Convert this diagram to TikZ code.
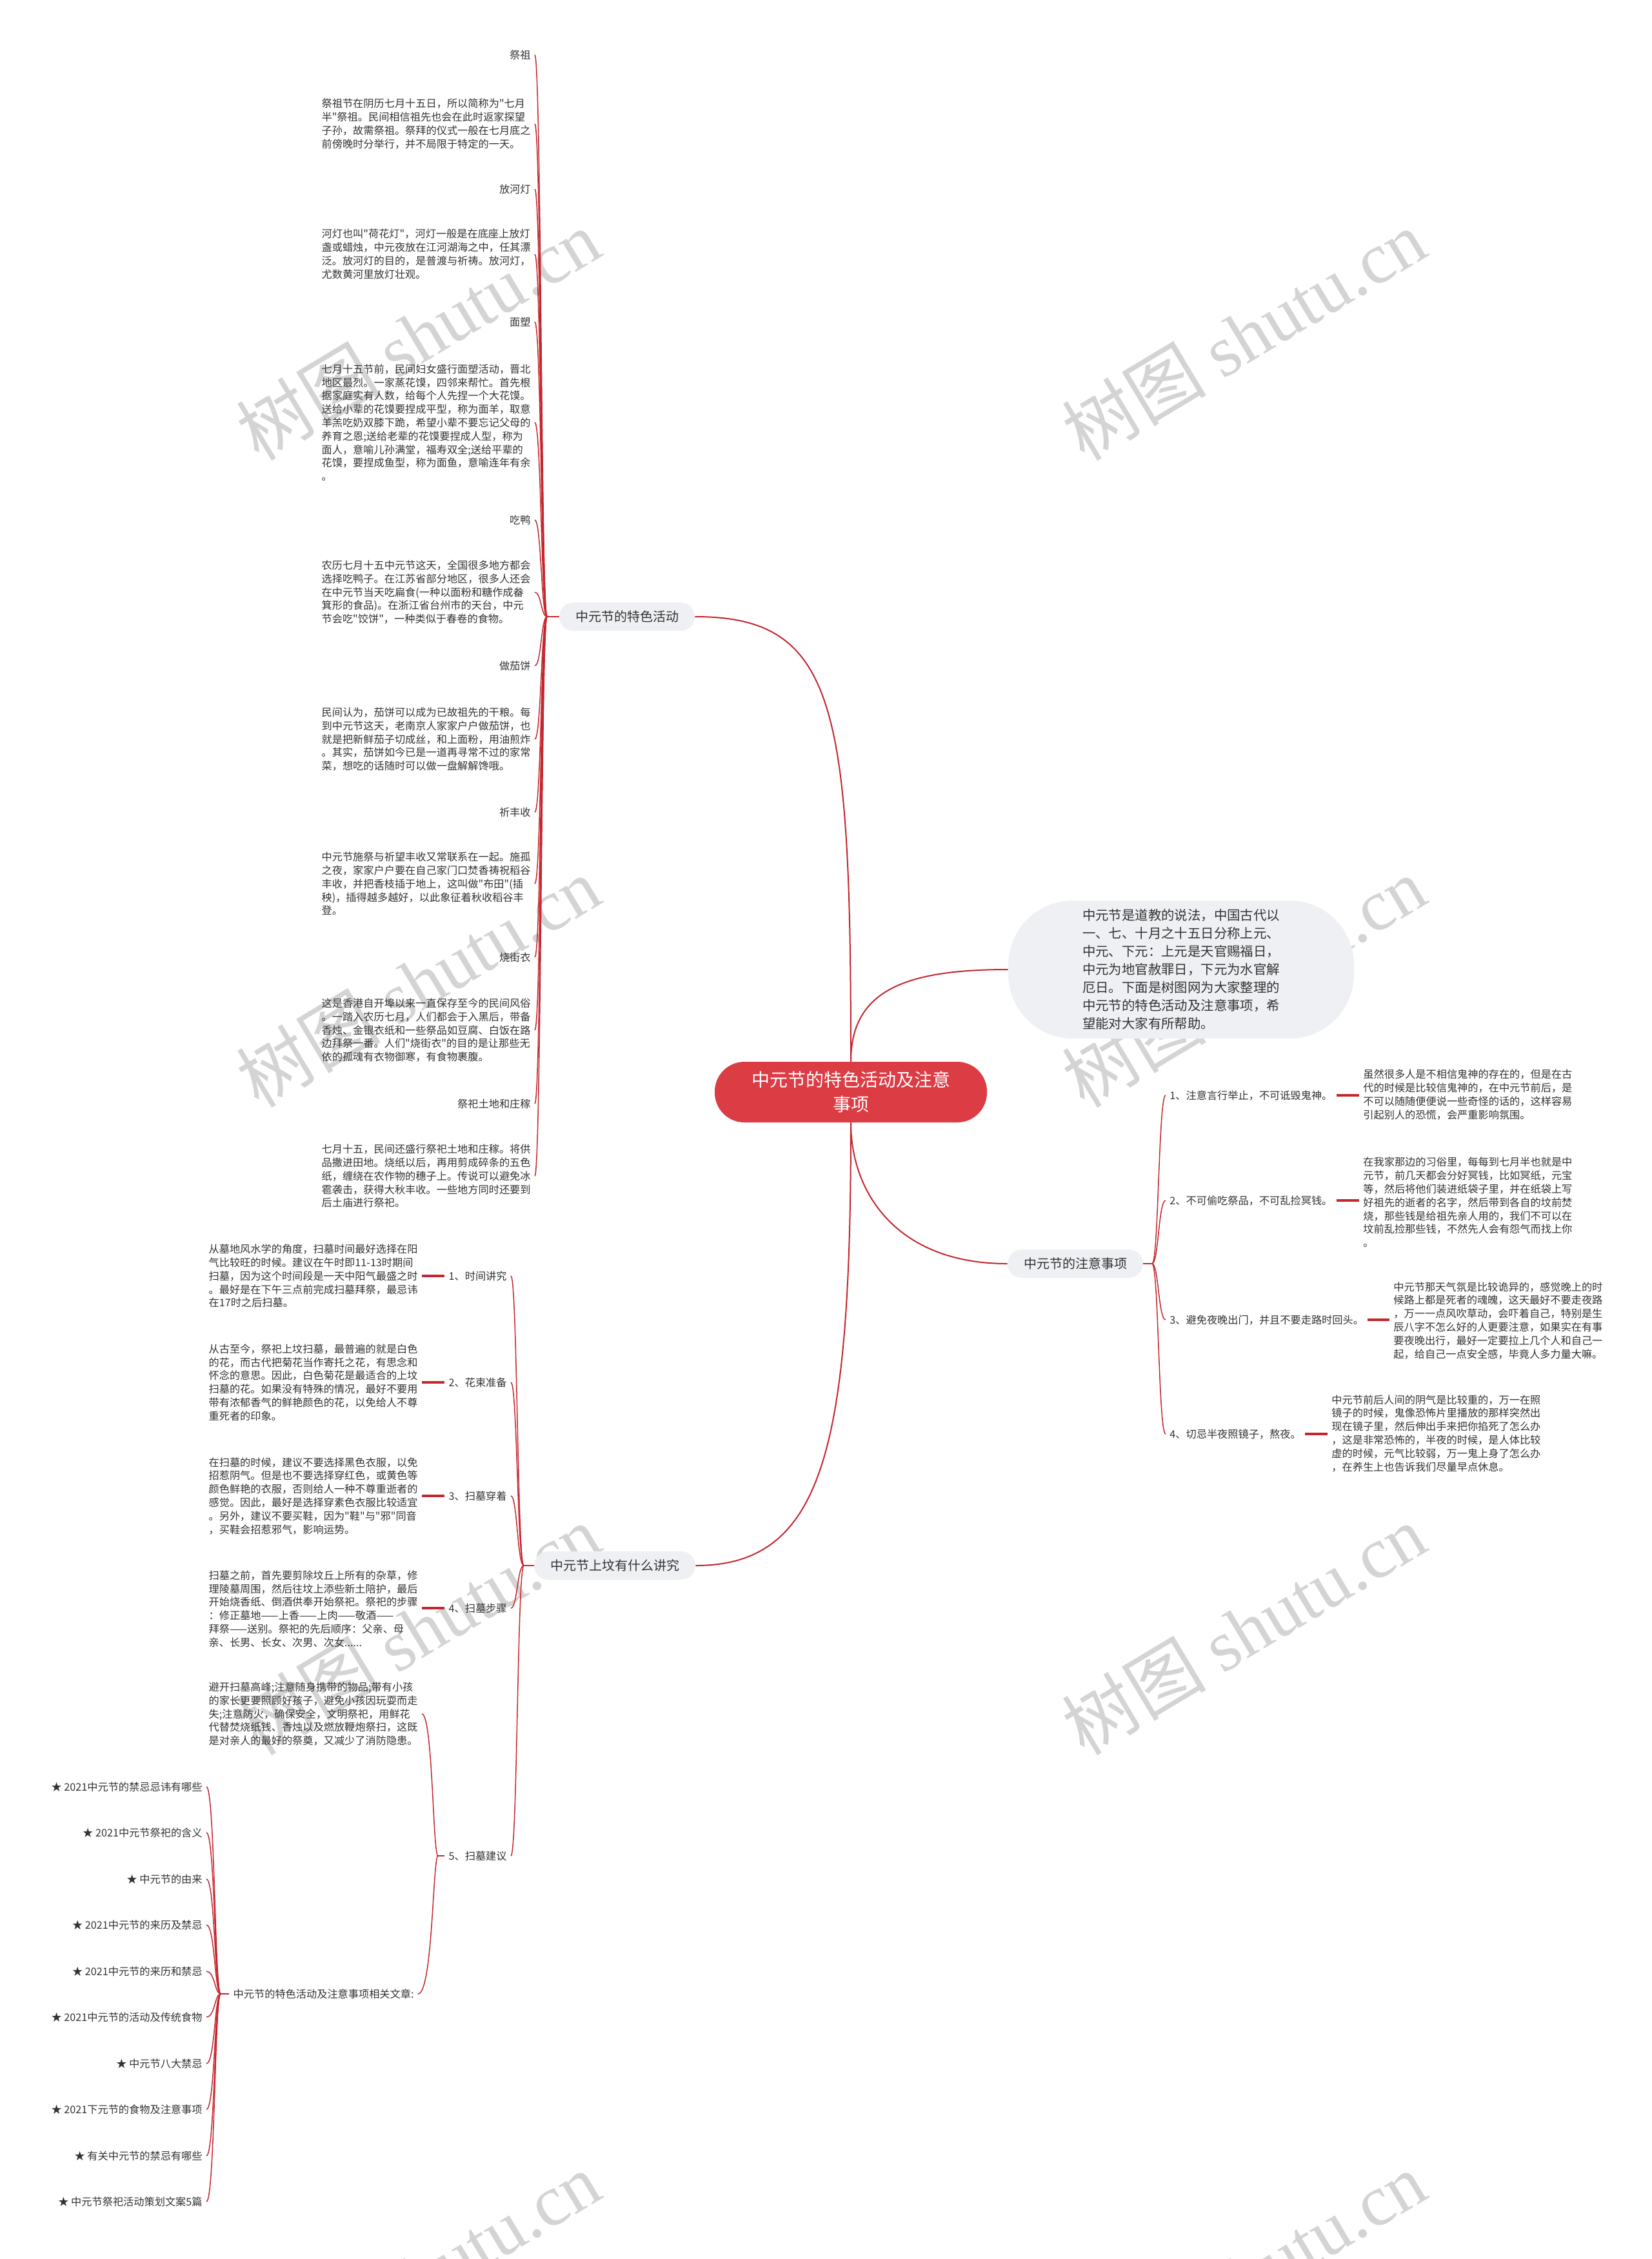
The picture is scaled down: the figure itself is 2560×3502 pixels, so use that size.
\documentclass[tikz,border=0pt]{standalone}
\usepackage{fontspec}
\setmainfont{Noto Sans CJK SC}[Ligatures=TeXOff]
\newfontfamily\wmserif{Liberation Serif}
\definecolor{linkred}{RGB}{196,38,46}
\definecolor{rootred}{RGB}{220,60,68}
\definecolor{topicgray}{RGB}{238,240,243}
\definecolor{inkgray}{RGB}{51,51,51}
\definecolor{markgray}{RGB}{212,212,212}

\begin{document}
\begin{tikzpicture}[
          x=0.5pt, y=-0.5pt,
          root-box/.style = {fill=rootred, text=white, rounded corners=23pt, align=center,
                             minimum width=211pt, minimum height=47pt, font=\fontsize{14}{19}\selectfont},
          topic-box/.style = {fill=topicgray, text=inkgray, rounded corners=11pt, inner xsep=12.5pt,
                              minimum height=22pt, font=\fontsize{10}{12}\selectfont},
          intro-box/.style = {fill=topicgray, text=inkgray, rounded corners=50pt, align=left,
                              minimum width=268pt, minimum height=107pt, font=\fontsize{10.2}{14}\selectfont},
          leaf-txt/.style = {text=inkgray, inner xsep=3pt, inner ysep=2pt, font=\fontsize{8.1}{10.4}\selectfont},
          note-txt/.style = {leaf-txt, align=left},
          mark-txt/.style = {text=markgray, rotate=31, font=\fontsize{56}{56}\selectfont},
          link-main/.style = {draw=linkred, line width=1pt},
          link-leaf/.style = {draw=linkred, line width=0.75pt},
          link-stub/.style = {draw=linkred, line width=1.6pt}
        ]
          \useasboundingbox (0,0) rectangle (2560,3502);
          \fill[white] (0,0) rectangle (2560,3502);

          % watermarks
          \node[mark-txt] (w1) at (648,519) {树图 {\wmserif shutu.cn}};
          \node[mark-txt] (w2) at (1928,519) {树图 {\wmserif shutu.cn}};
          \node[mark-txt] (w3) at (648,1522) {树图 {\wmserif shutu.cn}};
          \node[mark-txt] (w4) at (1928,1522) {树图 {\wmserif shutu.cn}};
          \node[mark-txt] (w5) at (648,2526) {树图 {\wmserif shutu.cn}};
          \node[mark-txt] (w6) at (1928,2526) {树图 {\wmserif shutu.cn}};
          \node[mark-txt] (w7) at (648,3530) {树图 {\wmserif shutu.cn}};
          \node[mark-txt] (w8) at (1928,3530) {树图 {\wmserif shutu.cn}};

          % centre and main topics
          \node[root-box] (root) at (1319,1693) {中元节的特色活动及注意\\事项};
          \node[topic-box] (act) at (972,956) {中元节的特色活动};
          \node[intro-box] (intro) at (1831,1503) {中元节是道教的说法，中国古代以\\
            一、七、十月之十五日分称上元、\\
            中元、下元：上元是天官赐福日，\\
            中元为地官赦罪日，下元为水官解\\
            厄日。下面是树图网为大家整理的\\
            中元节的特色活动及注意事项，希\\
            望能对大家有所帮助。};
          \node[topic-box] (care) at (1667,1959) {中元节的注意事项};
          \node[topic-box] (tomb) at (953,2427) {中元节上坟有什么讲究};

          % special activities
          \node[leaf-txt, anchor=east] (a1) at (829,85) {祭祖};
          \node[note-txt, anchor=east] (ad1) at (829,192) {祭祖节在阴历七月十五日，所以简称为"七月\\
            半"祭祖。民间相信祖先也会在此时返家探望\\
            子孙，故需祭祖。祭拜的仪式一般在七月底之\\
            前傍晚时分举行，并不局限于特定的一天。};
          \node[leaf-txt, anchor=east] (a2) at (829,293) {放河灯};
          \node[note-txt, anchor=east] (ad2) at (829,394) {河灯也叫"荷花灯"，河灯一般是在底座上放灯\\
            盏或蜡烛，中元夜放在江河湖海之中，任其漂\\
            泛。放河灯的目的，是普渡与祈祷。放河灯，\\
            尤数黄河里放灯壮观。};
          \node[leaf-txt, anchor=east] (a3) at (829,499) {面塑};
          \node[note-txt, anchor=east] (ad3) at (829,655) {七月十五节前，民间妇女盛行面塑活动，晋北\\
            地区最烈。一家蒸花馍，四邻来帮忙。首先根\\
            据家庭实有人数，给每个人先捏一个大花馍。\\
            送给小辈的花馍要捏成平型，称为面羊，取意\\
            羊羔吃奶双膝下跪，希望小辈不要忘记父母的\\
            养育之恩;送给老辈的花馍要捏成人型，称为\\
            面人，意喻儿孙满堂，福寿双全;送给平辈的\\
            花馍，要捏成鱼型，称为面鱼，意喻连年有余\\
            。};
          \node[leaf-txt, anchor=east] (a4) at (829,806) {吃鸭};
          \node[note-txt, anchor=east] (ad4) at (829,918) {农历七月十五中元节这天，全国很多地方都会\\
            选择吃鸭子。在江苏省部分地区，很多人还会\\
            在中元节当天吃扁食(一种以面粉和糖作成畚\\
            箕形的食品)。在浙江省台州市的天台，中元\\
            节会吃"饺饼"，一种类似于春卷的食物。};
          \node[leaf-txt, anchor=east] (a5) at (829,1032) {做茄饼};
          \node[note-txt, anchor=east] (ad5) at (829,1146) {民间认为，茄饼可以成为已故祖先的干粮。每\\
            到中元节这天，老南京人家家户户做茄饼，也\\
            就是把新鲜茄子切成丝，和上面粉，用油煎炸\\
            。其实，茄饼如今已是一道再寻常不过的家常\\
            菜，想吃的话随时可以做一盘解解馋哦。};
          \node[leaf-txt, anchor=east] (a6) at (829,1259) {祈丰收};
          \node[note-txt, anchor=east] (ad6) at (829,1370) {中元节施祭与祈望丰收又常联系在一起。施孤\\
            之夜，家家户户要在自己家门口焚香祷祝稻谷\\
            丰收，并把香枝插于地上，这叫做"布田"(插\\
            秧)，插得越多越好，以此象征着秋收稻谷丰\\
            登。};
          \node[leaf-txt, anchor=east] (a7) at (829,1484) {烧街衣};
          \node[note-txt, anchor=east] (ad7) at (829,1597) {这是香港自开埠以来一直保存至今的民间风俗\\
            。一踏入农历七月，人们都会于入黑后，带备\\
            香烛、金银衣纸和一些祭品如豆腐、白饭在路\\
            边拜祭一番。人们"烧街衣"的目的是让那些无\\
            依的孤魂有衣物御寒，有食物裹腹。};
          \node[leaf-txt, anchor=east] (a8) at (829,1711) {祭祀土地和庄稼};
          \node[note-txt, anchor=east] (ad8) at (829,1823) {七月十五，民间还盛行祭祀土地和庄稼。将供\\
            品撒进田地。烧纸以后，再用剪成碎条的五色\\
            纸，缠绕在农作物的穗子上。传说可以避免冰\\
            雹袭击，获得大秋丰收。一些地方同时还要到\\
            后土庙进行祭祀。};

          % things to mind
          \node[leaf-txt, anchor=west] (c1) at (1807,1698) {1、注意言行举止，不可诋毁鬼神。};
          \node[note-txt, anchor=west] (cd1) at (2107,1697) {虽然很多人是不相信鬼神的存在的，但是在古\\
            代的时候是比较信鬼神的，在中元节前后，是\\
            不可以随随便便说一些奇怪的话的，这样容易\\
            引起别人的恐慌，会严重影响氛围。};
          \node[leaf-txt, anchor=west] (c2) at (1807,1861) {2、不可偷吃祭品，不可乱捡冥钱。};
          \node[note-txt, anchor=west] (cd2) at (2107,1864) {在我家那边的习俗里，每每到七月半也就是中\\
            元节，前几天都会分好冥钱，比如冥纸，元宝\\
            等，然后将他们装进纸袋子里，并在纸袋上写\\
            好祖先的逝者的名字，然后带到各自的坟前焚\\
            烧，那些钱是给祖先亲人用的，我们不可以在\\
            坟前乱捡那些钱，不然先人会有怨气而找上你\\
            。};
          \node[leaf-txt, anchor=west] (c3) at (1807,2046) {3、避免夜晚出门，并且不要走路时回头。};
          \node[note-txt, anchor=west] (cd3) at (2154,2047) {中元节那天气氛是比较诡异的，感觉晚上的时\\
            候路上都是死者的魂魄，这天最好不要走夜路\\
            ，万一一点风吹草动，会吓着自己，特别是生\\
            辰八字不怎么好的人更要注意，如果实在有事\\
            要夜晚出行，最好一定要拉上几个人和自己一\\
            起，给自己一点安全感，毕竟人多力量大嘛。};
          \node[leaf-txt, anchor=west] (c4) at (1807,2223) {4、切忌半夜照镜子，熬夜。};
          \node[note-txt, anchor=west] (cd4) at (2058,2222) {中元节前后人间的阴气是比较重的，万一在照\\
            镜子的时候，鬼像恐怖片里播放的那样突然出\\
            现在镜子里，然后伸出手来把你掐死了怎么办\\
            ，这是非常恐怖的，半夜的时候，是人体比较\\
            虚的时候，元气比较弱，万一鬼上身了怎么办\\
            ，在养生上也告诉我们尽量早点休息。};

          % tomb sweeping
          \node[leaf-txt, anchor=east] (t1) at (792,1978) {1、时间讲究};
          \node[note-txt, anchor=east] (td1) at (654,1978) {从墓地风水学的角度，扫墓时间最好选择在阳\\
            气比较旺的时候。建议在午时即11-13时期间\\
            扫墓，因为这个时间段是一天中阳气最盛之时\\
            。最好是在下午三点前完成扫墓拜祭，最忌讳\\
            在17时之后扫墓。};
          \node[leaf-txt, anchor=east] (t2) at (792,2143) {2、花束准备};
          \node[note-txt, anchor=east] (td2) at (654,2143) {从古至今，祭祀上坟扫墓，最普遍的就是白色\\
            的花，而古代把菊花当作寄托之花，有思念和\\
            怀念的意思。因此，白色菊花是最适合的上坟\\
            扫墓的花。如果没有特殊的情况，最好不要用\\
            带有浓郁香气的鲜艳颜色的花，以免给人不尊\\
            重死者的印象。};
          \node[leaf-txt, anchor=east] (t3) at (792,2319) {3、扫墓穿着};
          \node[note-txt, anchor=east] (td3) at (654,2319) {在扫墓的时候，建议不要选择黑色衣服，以免\\
            招惹阴气。但是也不要选择穿红色，或黄色等\\
            颜色鲜艳的衣服，否则给人一种不尊重逝者的\\
            感觉。因此，最好是选择穿素色衣服比较适宜\\
            。另外，建议不要买鞋，因为"鞋"与"邪"同音\\
            ，买鞋会招惹邪气，影响运势。};
          \node[leaf-txt, anchor=east] (t4) at (792,2493) {4、扫墓步骤};
          \node[note-txt, anchor=east] (td4) at (654,2494) {扫墓之前，首先要剪除坟丘上所有的杂草，修\\
            理陵墓周围，然后往坟上添些新土陪护，最后\\
            开始烧香纸、倒酒供奉开始祭祀。祭祀的步骤\\
            ：修正墓地——上香——上肉——敬酒——\\
            拜祭——送别。祭祀的先后顺序：父亲、母\\
            亲、长男、长女、次男、次女......};
          \node[leaf-txt, anchor=east] (t5) at (792,2877) {5、扫墓建议};
          \node[note-txt, anchor=east] (td5) at (654,2657) {避开扫墓高峰;注意随身携带的物品;带有小孩\\
            的家长更要照顾好孩子，避免小孩因玩耍而走\\
            失;注意防火，确保安全，文明祭祀，用鲜花\\
            代替焚烧纸钱、香烛以及燃放鞭炮祭扫，这既\\
            是对亲人的最好的祭奠，又减少了消防隐患。};
          \node[leaf-txt, anchor=east] (rel) at (648,3091) {中元节的特色活动及注意事项相关文章:};

          % related articles
          \node[leaf-txt, anchor=east] (k1) at (320,2770) {★ 2021中元节的禁忌忌讳有哪些};
          \node[leaf-txt, anchor=east] (k2) at (320,2841) {★ 2021中元节祭祀的含义};
          \node[leaf-txt, anchor=east] (k3) at (320,2913) {★ 中元节的由来};
          \node[leaf-txt, anchor=east] (k4) at (320,2984) {★ 2021中元节的来历及禁忌};
          \node[leaf-txt, anchor=east] (k5) at (320,3056) {★ 2021中元节的来历和禁忌};
          \node[leaf-txt, anchor=east] (k6) at (320,3127) {★ 2021中元节的活动及传统食物};
          \node[leaf-txt, anchor=east] (k7) at (320,3199) {★ 中元节八大禁忌};
          \node[leaf-txt, anchor=east] (k8) at (320,3270) {★ 2021下元节的食物及注意事项};
          \node[leaf-txt, anchor=east] (k9) at (320,3342) {★ 有关中元节的禁忌有哪些};
          \node[leaf-txt, anchor=east] (k10) at (320,3413) {★ 中元节祭祀活动策划文案5篇};

          % centre links
          \draw[link-main] (root.north) .. controls +(0,-550) and +(220,0) .. (act.east);
          \draw[link-main] (root.north) .. controls +(0,-110) and +(-160,0) .. (intro.west);
          \draw[link-main] (root.south) .. controls +(0,110) and +(-170,0) .. (care.west);
          \draw[link-main] (root.south) .. controls +(0,500) and +(200,0) .. (tomb.east);

          % activity links
          \coordinate (j1) at (848,956);
          \draw[link-leaf] (act.west) -- (j1);
          \draw[link-leaf] (j1) .. controls +(-9,0) and +(10,0) .. (a1.east);
          \draw[link-leaf] (j1) .. controls +(-9,0) and +(10,0) .. (ad1.east);
          \draw[link-leaf] (j1) .. controls +(-9,0) and +(10,0) .. (a2.east);
          \draw[link-leaf] (j1) .. controls +(-9,0) and +(10,0) .. (ad2.east);
          \draw[link-leaf] (j1) .. controls +(-9,0) and +(10,0) .. (a3.east);
          \draw[link-leaf] (j1) .. controls +(-9,0) and +(10,0) .. (ad3.east);
          \draw[link-leaf] (j1) .. controls +(-9,0) and +(10,0) .. (a4.east);
          \draw[link-leaf] (j1) .. controls +(-9,0) and +(10,0) .. (ad4.east);
          \draw[link-leaf] (j1) .. controls +(-9,0) and +(10,0) .. (a5.east);
          \draw[link-leaf] (j1) .. controls +(-9,0) and +(10,0) .. (ad5.east);
          \draw[link-leaf] (j1) .. controls +(-9,0) and +(10,0) .. (a6.east);
          \draw[link-leaf] (j1) .. controls +(-9,0) and +(10,0) .. (ad6.east);
          \draw[link-leaf] (j1) .. controls +(-9,0) and +(10,0) .. (a7.east);
          \draw[link-leaf] (j1) .. controls +(-9,0) and +(10,0) .. (ad7.east);
          \draw[link-leaf] (j1) .. controls +(-9,0) and +(10,0) .. (a8.east);
          \draw[link-leaf] (j1) .. controls +(-9,0) and +(10,0) .. (ad8.east);

          % care links
          \coordinate (j3) at (1786,1959);
          \draw[link-leaf] (care.east) -- (j3);
          \draw[link-leaf] (j3) .. controls +(10,0) and +(-11,0) .. (c1.west);
          \draw[link-leaf] (j3) .. controls +(10,0) and +(-11,0) .. (c2.west);
          \draw[link-leaf] (j3) .. controls +(10,0) and +(-11,0) .. (c3.west);
          \draw[link-leaf] (j3) .. controls +(10,0) and +(-11,0) .. (c4.west);
          \draw[link-stub] (c1.east) -- (c1.east -| cd1.west);
          \draw[link-stub] (c2.east) -- (c2.east -| cd2.west);
          \draw[link-stub] (c3.east) -- (c3.east -| cd3.west);
          \draw[link-stub] (c4.east) -- (c4.east -| cd4.west);

          % tomb links
          \coordinate (j4) at (812,2427);
          \draw[link-leaf] (tomb.west) -- (j4);
          \draw[link-leaf] (j4) .. controls +(-10,0) and +(10,0) .. (t1.east);
          \draw[link-leaf] (j4) .. controls +(-10,0) and +(10,0) .. (t2.east);
          \draw[link-leaf] (j4) .. controls +(-10,0) and +(10,0) .. (t3.east);
          \draw[link-leaf] (j4) .. controls +(-10,0) and +(10,0) .. (t4.east);
          \draw[link-leaf] (j4) .. controls +(-10,0) and +(10,0) .. (t5.east);
          \draw[link-stub] (t1.west) -- (t1.west -| td1.east);
          \draw[link-stub] (t2.west) -- (t2.west -| td2.east);
          \draw[link-stub] (t3.west) -- (t3.west -| td3.east);
          \draw[link-stub] (t4.west) -- (t4.west -| td4.east);

          \coordinate (j5) at (679,2877);
          \draw[link-leaf] (t5.west) -- (j5);
          \draw[link-leaf] (j5) .. controls +(-8,0) and +(17,0) .. (td5.east);
          \draw[link-leaf] (j5) .. controls +(-8,0) and +(23,0) .. (rel.east);

          \coordinate (j6) at (342,3091);
          \draw[link-leaf] (rel.west) -- (j6);
          \draw[link-leaf] (j6) .. controls +(-9,0) and +(13,0) .. (k1.east);
          \draw[link-leaf] (j6) .. controls +(-9,0) and +(13,0) .. (k2.east);
          \draw[link-leaf] (j6) .. controls +(-9,0) and +(13,0) .. (k3.east);
          \draw[link-leaf] (j6) .. controls +(-9,0) and +(13,0) .. (k4.east);
          \draw[link-leaf] (j6) .. controls +(-9,0) and +(13,0) .. (k5.east);
          \draw[link-leaf] (j6) .. controls +(-9,0) and +(13,0) .. (k6.east);
          \draw[link-leaf] (j6) .. controls +(-9,0) and +(13,0) .. (k7.east);
          \draw[link-leaf] (j6) .. controls +(-9,0) and +(13,0) .. (k8.east);
          \draw[link-leaf] (j6) .. controls +(-9,0) and +(13,0) .. (k9.east);
          \draw[link-leaf] (j6) .. controls +(-9,0) and +(13,0) .. (k10.east);
        \end{tikzpicture}
\end{document}
